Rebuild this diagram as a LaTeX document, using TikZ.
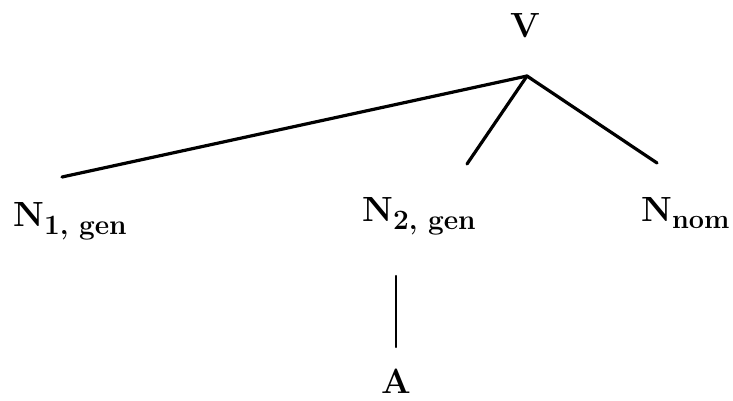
\documentclass[tikz,border=0pt]{standalone}
\usepackage{fontspec}
\setmainfont{Latin Modern Roman}
\begin{document}
\begin{tikzpicture}[x=1pt,y=-1pt,
  lab/.style={inner sep=0pt,font=\fontsize{35}{40}\selectfont\bfseries},
  branch/.style={line width=3.2pt,line cap=round}]
\useasboundingbox (0,0) rectangle (733,401);
\node[lab,anchor=base] (v) at (525,38) {V};
\node[lab,anchor=base west] (n1) at (13,226) {N\raisebox{-0.25em}{\fontsize{28}{30}\selectfont 1, gen}};
\node[lab,anchor=base west] (n2) at (362,221) {N\raisebox{-0.25em}{\fontsize{28}{30}\selectfont 2, gen}};
\node[lab,anchor=base west] (nn) at (641,221) {N\raisebox{-0.2em}{\fontsize{27}{30}\selectfont nom}};
\node[lab,anchor=base] (a) at (396,393) {A};
\coordinate (top) at (527,76);
\coordinate (e1) at (62,177);
\coordinate (e2) at (467,164);
\coordinate (e3) at (657,163);
\coordinate (a1) at (396,276);
\coordinate (a2) at (396,347);
\draw[branch] (top) -- (e1);
\draw[branch] (top) -- (e2);
\draw[branch] (top) -- (e3);
\draw[branch,line width=2.2pt] (a1) -- (a2);
\end{tikzpicture}
\end{document}
